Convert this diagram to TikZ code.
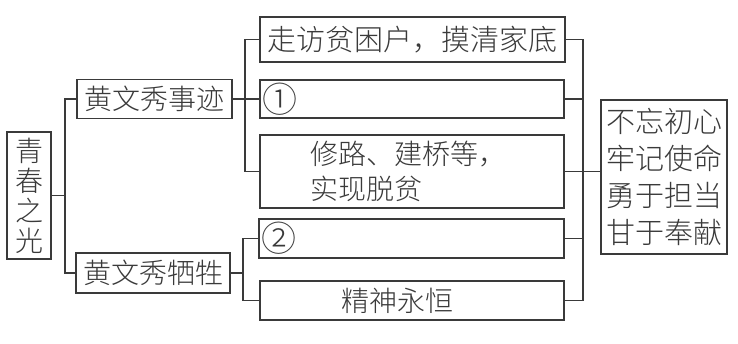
\documentclass[tikz,border=0pt]{standalone}
\usepackage{fontspec}
\setmainfont{Noto Sans CJK SC}[UprightFont={* Light}]
\definecolor{ink}{HTML}{3A3A3A}
\begin{document}
\begin{tikzpicture}[x=1pt,y=-1pt,
  box/.style={draw=ink, line width=1.3pt, rectangle, inner sep=0pt, text=ink,
    font=\fontsize{28}{30}\selectfont},
  conn/.style={draw=ink, line width=1.3pt}]
\useasboundingbox (0,0) rectangle (738,344);
\fill[white] (0,0) rectangle (738,344);
% nodes
\node[box, minimum width=44pt, minimum height=127pt, align=center,
      font=\fontsize{28}{30}\selectfont] (qc) at (29,195.5) {青\\春\\之\\光};
\node[box, minimum width=155pt, minimum height=39pt] (hs) at (154.5,99) {黄文秀事迹};
\node[box, minimum width=154pt, minimum height=40pt] (hx) at (153,273) {黄文秀牺牲};
\node[box, minimum width=305pt, minimum height=45pt] (b1) at (412.5,39.5)
      {\fontsize{29}{30}\selectfont 走访贫困户，摸清家底};
\node[box, minimum height=38pt, text width=300pt, inner xsep=2pt, align=left] (b2) at (412,99)
      {\fontsize{35}{30}\selectfont ①};
\node[box, minimum height=73pt, text width=204pt, inner xsep=50pt, align=left,
      font=\fontsize{28}{35}\selectfont] (b3) at (412,171.5) {修路、建桥等，\\实现脱贫};
\node[box, minimum height=39pt, text width=301pt, inner xsep=2pt, align=left] (b4) at (411.5,238.5)
      {\fontsize{35}{30}\selectfont ②};
\node[box, minimum height=39pt, text width=274pt, inner xsep=15pt, align=center] (b5) at (412,300.5)
      {\hspace*{-30pt}精神永恒};
\node[box, minimum width=126pt, minimum height=154pt, align=center,
      font=\fontsize{29}{37}\selectfont] (r) at (664,177) {不忘初心\\牢记使命\\勇于担当\\甘于奉献};
% spines
\coordinate (s1) at (65,0);
\coordinate (s2) at (245,0);
\coordinate (s3) at (243,0);
\coordinate (s4) at (583,0);
% connectors
\draw[conn] (hs.west) -- (hs.west -| s1) -- (hx.west -| s1) -- (hx.west);
\draw[conn] (qc.east) -- (qc.east -| s1);
\draw[conn] (b1.west) -- (b1.west -| s2) -- (b3.west -| s2) -- (b3.west);
\draw[conn] (hs.east) -- (b2.west);
\draw[conn] (b4.west) -- (b4.west -| s3) -- (b5.west -| s3) -- (b5.west);
\draw[conn] (hx.east) -- (hx.east -| s3);
\draw[conn] (b1.east) -- (b1.east -| s4) -- (b5.east -| s4) -- (b5.east);
\draw[conn] (b2.east) -- (b2.east -| s4);
\draw[conn] (b4.east) -- (b4.east -| s4);
\draw[conn] (b3.east) -- (b3.east -| r.west);
\end{tikzpicture}
\end{document}
